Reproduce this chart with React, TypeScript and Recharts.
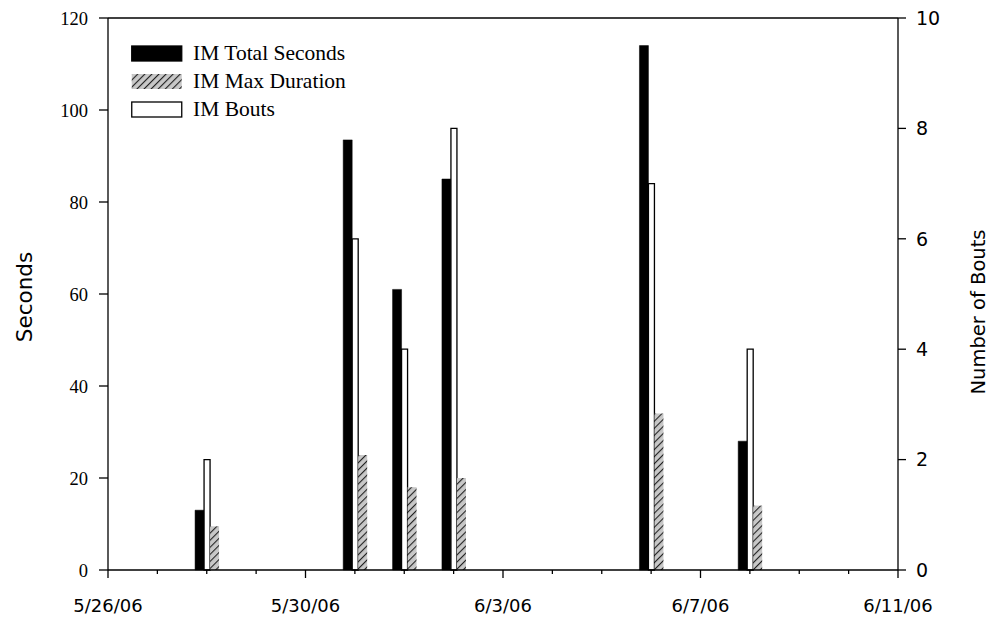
import React from 'react';
import { ComposedChart, Bar, XAxis, YAxis, ReferenceLine } from 'recharts';

const dates = ['5/28/06', '5/31/06', '6/1/06', '6/2/06', '6/6/06', '6/8/06'];
const totalSeconds = [13, 93.5, 61, 85, 114, 28];
const maxDuration = [9.5, 25, 18, 20, 34, 14];
const bouts = [2, 6, 4, 8, 7, 4];
const xTickLabels = ['5/26/06', '5/30/06', '6/3/06', '6/7/06', '6/11/06'];
const secondsTicks = [0, 20, 40, 60, 80, 100, 120];
const boutTicks = [0, 2, 4, 6, 8, 10];
const startDate = '5/26/06';

const toUTC = (s: string) => {
  const [m, d, y] = s.split('/').map(Number);
  return Date.UTC(2000 + y, m - 1, d);
};
const dayIndex = (s: string) => Math.round((toUTC(s) - toUTC(startDate)) / 86400000);

const data = dates.map((d, i) => ({
  day: dayIndex(d),
  total: totalSeconds[i],
  max: maxDuration[i],
  bouts: bouts[i],
}));

const majorDays = xTickLabels.map(dayIndex);
const lastDay = majorDays[majorDays.length - 1];
const allDays: number[] = [];
for (let i = 0; i <= lastDay; i++) allDays.push(i);

const SANS = '"DejaVu Sans", sans-serif';
const SERIF = '"Liberation Serif", "Times New Roman", serif';

const XTick = (props: any) => {
  const { x, y, payload } = props;
  const idx = majorDays.indexOf(payload.value);
  const major = idx >= 0;
  return (
    <g>
      <line x1={x} x2={x} y1={y} y2={y + (major ? 8 : 4)} stroke="#000" strokeWidth={1.3} />
      {major && (
        <text x={x} y={y + 42} textAnchor="middle" fontFamily={SANS} fontSize={18} fill="#000">
          {xTickLabels[idx]}
        </text>
      )}
    </g>
  );
};

const Hatch = ({ id }: { id: string }) => (
  <pattern id={id} patternUnits="userSpaceOnUse" width={5} height={5} patternTransform="rotate(45)">
    <rect x={0} y={0} width={5} height={5} fill="#c8c8c8" />
    <line x1={0} y1={0} x2={0} y2={5} stroke="#222" strokeWidth={2.2} />
  </pattern>
);

const legendItems = [
  { label: 'IM Total Seconds', kind: 'black' },
  { label: 'IM Max Duration', kind: 'hatch' },
  { label: 'IM Bouts', kind: 'white' },
];

export default function App() {
  return (
    <div style={{ position: 'absolute', left: 0, top: 0, width: 991, height: 617, background: '#fff' }}>
      <ComposedChart
        width={991}
        height={617}
        data={data}
        margin={{ top: 18, right: 23, bottom: 12, left: 38 }}
        barGap={0}
      >
        <defs>
          <Hatch id="hatchBar" />
        </defs>
        <XAxis
          xAxisId="x"
          dataKey="day"
          type="number"
          domain={[0, lastDay]}
          ticks={allDays}
          interval={0}
          tickSize={0}
          tickMargin={0}
          tickLine={false}
          tick={<XTick />}
          axisLine={{ stroke: '#000', strokeWidth: 1.3 }}
          height={35}
          allowDataOverflow
        />
        <YAxis
          yAxisId="left"
          orientation="left"
          domain={[0, 120]}
          ticks={secondsTicks}
          width={70}
          tickSize={9}
          tickMargin={11}
          axisLine={{ stroke: '#000', strokeWidth: 1.3 }}
          tickLine={{ stroke: '#000', strokeWidth: 1.3 }}
          tick={{ fontFamily: SERIF, fontSize: 18.5, fill: '#000' }}
        />
        <YAxis
          yAxisId="right"
          orientation="right"
          domain={[0, 10]}
          ticks={boutTicks}
          width={70}
          tickSize={8}
          tickMargin={10}
          axisLine={{ stroke: '#000', strokeWidth: 1.3 }}
          tickLine={{ stroke: '#000', strokeWidth: 1.3 }}
          tick={{ fontFamily: SANS, fontSize: 19, fill: '#000' }}
        />
        <ReferenceLine xAxisId="x" yAxisId="left" y={120} stroke="#000" strokeWidth={1.3} />
        <Bar xAxisId="x" yAxisId="left" dataKey="total" barSize={9} fill="#000" stroke="#000" strokeWidth={0.5} isAnimationActive={false} />
        <Bar xAxisId="x" yAxisId="right" dataKey="bouts" barSize={6} fill="#fff" stroke="#000" strokeWidth={1.3} isAnimationActive={false} />
        <Bar xAxisId="x" yAxisId="left" dataKey="max" barSize={9} fill="url(#hatchBar)" isAnimationActive={false} />
      </ComposedChart>

      <div
        style={{
          position: 'absolute',
          left: 24,
          top: 297,
          transform: 'translate(-50%, -50%) rotate(-90deg)',
          fontFamily: SANS,
          fontSize: 21.5,
          whiteSpace: 'nowrap',
          color: '#000',
        }}
      >
        Seconds
      </div>
      <div
        style={{
          position: 'absolute',
          left: 978,
          top: 312,
          transform: 'translate(-50%, -50%) rotate(-90deg)',
          fontFamily: SANS,
          fontSize: 19.5,
          whiteSpace: 'nowrap',
          color: '#000',
        }}
      >
        Number of Bouts
      </div>

      <div style={{ position: 'absolute', left: 131, top: 39 }}>
        {legendItems.map((it) => (
          <div key={it.label} style={{ display: 'flex', alignItems: 'center', height: 28 }}>
            <svg width={52} height={17} style={{ display: 'block' }}>
              <defs>
                <Hatch id="hatchLegend" />
              </defs>
              <rect
                x={0.75}
                y={1}
                width={50}
                height={15}
                fill={it.kind === 'black' ? '#000' : it.kind === 'white' ? '#fff' : 'url(#hatchLegend)'}
                stroke={it.kind === 'hatch' ? 'none' : '#000'}
                strokeWidth={1.3}
              />
            </svg>
            <span style={{ marginLeft: 10, fontFamily: SERIF, fontSize: 21.5, color: '#000', lineHeight: '28px' }}>
              {it.label}
            </span>
          </div>
        ))}
      </div>
    </div>
  );
}
